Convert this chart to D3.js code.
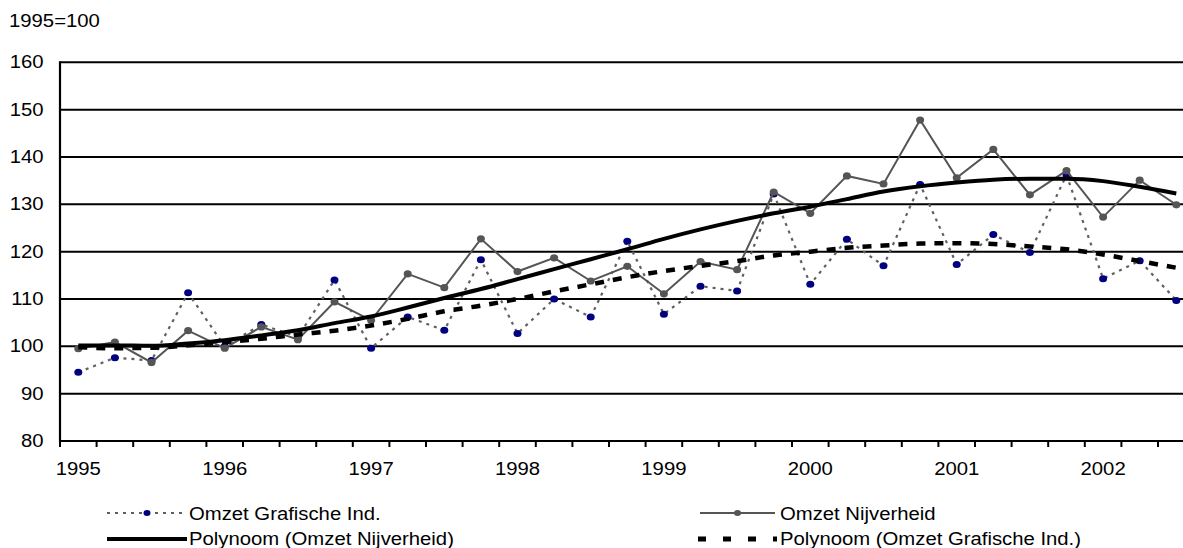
<!DOCTYPE html>
<html>
<head>
<meta charset="utf-8">
<script src="https://cdn.jsdelivr.net/npm/d3@7"></script>
<style>
  body { margin: 0; background: #fff; overflow: hidden; }
  text { font-family: "Liberation Sans", Arial, sans-serif; font-size: 17.5px; fill: #000; }
</style>
</head>
<body>
<script>
// quarters 1995 K1 .. 2002 K3
var years = [1995, 1996, 1997, 1998, 1999, 2000, 2001, 2002];
var quarters = [];
years.forEach(function (y) {
  [1, 2, 3, 4].forEach(function (q) {
    if (quarters.length < 31) quarters.push(y + " K" + q);
  });
});

var nijverheid = [99.5, 100.9, 96.6, 103.3, 99.6, 104.1, 101.4, 109.4, 105.5, 115.3, 112.4, 122.7, 115.8, 118.7, 113.8, 116.9,
                  111.1, 117.9, 116.2, 132.6, 128.1, 136.0, 134.3, 147.8, 135.6, 141.6, 132.0, 137.1, 127.3, 135.1, 129.9];
var grafische = [94.5, 97.6, 97.0, 111.3, 100.0, 104.6, 102.0, 114.0, 99.6, 106.2, 103.4, 118.3, 102.7, 110.0, 106.2, 122.2,
                 106.8, 112.7, 111.7, 132.2, 113.1, 122.6, 117.0, 134.2, 117.3, 123.6, 119.8, 136.2, 114.3, 118.1, 109.7];
var polyNijverheid = [100.2, 100.2, 100.1, 100.6, 101.3, 102.3, 103.4, 104.9, 106.3, 108.2, 110.2, 112.1, 114.2, 116.3, 118.4, 120.5,
                      122.7, 124.7, 126.5, 128.1, 129.5, 131.1, 132.7, 133.8, 134.6, 135.2, 135.4, 135.4, 134.9, 133.7, 132.3];
var polyGrafische = [99.8, 99.6, 99.7, 100.2, 100.9, 101.6, 102.5, 103.3, 104.4, 105.8, 107.4, 108.6, 110.0, 111.6, 113.1, 114.6,
                     115.9, 117.0, 118.0, 119.2, 120.0, 120.8, 121.3, 121.7, 121.8, 121.6, 121.1, 120.5, 119.4, 118.0, 116.6];
var yTicks = [80, 90, 100, 110, 120, 130, 140, 150, 160];

var w = 1183, h = 548;
var plotLeft = 60, plotTop = 62.3, plotBottom = 441;
var bandW = 36.6;

var svg = d3.select("body").append("svg").attr("width", w).attr("height", h);

var x = d3.scaleBand()
  .domain(d3.range(quarters.length))
  .range([plotLeft, plotLeft + bandW * quarters.length])
  .padding(0);
var cx = function (i) { return x(i) + x.bandwidth() / 2; };
var y = d3.scaleLinear().domain([80, 160]).range([plotBottom, plotTop]);
var plotRight = plotLeft + bandW * quarters.length;

// text slightly stretched horizontally, like the source picture
function addText(px, py, str, anchor) {
  return svg.append("text")
    .attr("transform", "translate(" + px + "," + py + ") scale(1.16,1)")
    .attr("text-anchor", anchor || "start")
    .text(str);
}

//gridlines
svg.selectAll("line.grid")
  .data(yTicks.slice(1))
  .enter()
  .append("line")
  .attr("class", "grid")
  .attr("x1", plotLeft).attr("x2", plotRight)
  .attr("y1", d => y(d)).attr("y2", d => y(d))
  .attr("stroke", "#000").attr("stroke-width", 2);

//axes
svg.append("line").attr("x1", plotLeft).attr("x2", plotLeft).attr("y1", plotTop - 1).attr("y2", plotBottom)
  .attr("stroke", "#000").attr("stroke-width", 2.2);
svg.append("line").attr("x1", plotLeft).attr("x2", plotRight).attr("y1", plotBottom).attr("y2", plotBottom)
  .attr("stroke", "#000").attr("stroke-width", 2.2);

svg.selectAll("line.xtick")
  .data(d3.range(quarters.length + 1))
  .enter()
  .append("line")
  .attr("class", "xtick")
  .attr("x1", d => plotLeft + d * x.bandwidth()).attr("x2", d => plotLeft + d * x.bandwidth())
  .attr("y1", plotBottom).attr("y2", plotBottom + 6)
  .attr("stroke", "#000").attr("stroke-width", 2);

yTicks.forEach(function (t) {
  addText(43.5, y(t) + 6, t, "end");
});
quarters.forEach(function (q, i) {
  if (i % 4 === 0) addText(cx(i), 475, q.slice(0, 4), "middle");
});
addText(9, 27, "1995=100");

var line = d3.line().x((d, i) => cx(i)).y(d => y(d));

//Omzet Grafische Ind.
svg.append("path").datum(grafische).attr("d", line)
  .attr("fill", "none").attr("stroke", "#606060").attr("stroke-width", 2.2)
  .attr("stroke-dasharray", "3,5");
svg.selectAll("ellipse.graf")
  .data(grafische)
  .enter()
  .append("ellipse")
  .attr("class", "graf")
  .attr("cx", (d, i) => cx(i)).attr("cy", d => y(d))
  .attr("rx", 4).attr("ry", 3.5)
  .attr("fill", "#000080");

//Omzet Nijverheid
svg.append("path").datum(nijverheid).attr("d", line)
  .attr("fill", "none").attr("stroke", "#555555").attr("stroke-width", 2);
svg.selectAll("ellipse.nijv")
  .data(nijverheid)
  .enter()
  .append("ellipse")
  .attr("class", "nijv")
  .attr("cx", (d, i) => cx(i)).attr("cy", d => y(d))
  .attr("rx", 4).attr("ry", 3.6)
  .attr("fill", "#555555");

//trendlines
var smooth = d3.line().x((d, i) => cx(i)).y(d => y(d)).curve(d3.curveMonotoneX);
svg.append("path").datum(polyNijverheid).attr("d", smooth)
  .attr("fill", "none").attr("stroke", "#000").attr("stroke-width", 4);
svg.append("path").datum(polyGrafische).attr("d", smooth)
  .attr("fill", "none").attr("stroke", "#000").attr("stroke-width", 4.5)
  .attr("stroke-dasharray", "9,9");

//legend
function legendSample(x1, x2, ly, stroke, sw, dash, marker) {
  svg.append("line").attr("x1", x1).attr("x2", x2).attr("y1", ly).attr("y2", ly)
    .attr("stroke", stroke).attr("stroke-width", sw)
    .attr("stroke-dasharray", dash || null);
  if (marker) {
    svg.append("ellipse").attr("cx", (x1 + x2) / 2).attr("cy", ly)
      .attr("rx", 3.5).attr("ry", 3).attr("fill", marker);
  }
}
legendSample(107, 187, 513, "#606060", 2.2, "3,5", "#000080");
addText(189, 520, "Omzet Grafische Ind.");
legendSample(107, 187, 539, "#000", 4);
addText(189, 545, "Polynoom (Omzet Nijverheid)");
legendSample(700, 775, 513, "#555555", 2, null, "#555555");
addText(780, 520, "Omzet Nijverheid");
legendSample(698, 777, 539, "#000", 5, "8,17");
addText(780, 545, "Polynoom (Omzet Grafische Ind.)");
</script>
</body>
</html>
